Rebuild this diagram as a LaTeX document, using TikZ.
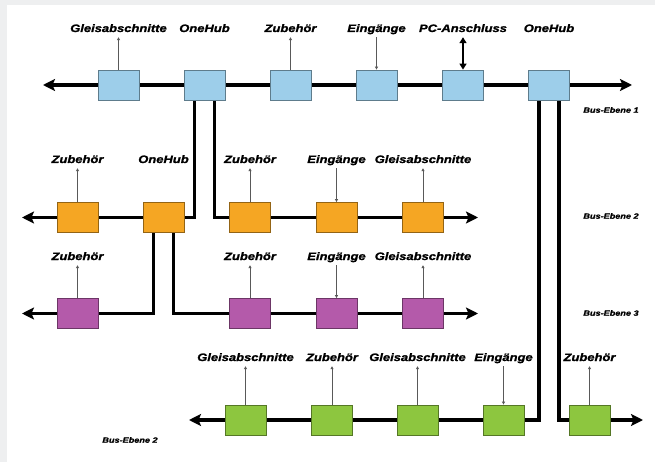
\documentclass[tikz,border=0pt]{standalone}
\usepackage{fontspec}
\setmainfont{Liberation Sans}
\newfontfamily\lblfont{Liberation Sans}[FakeStretch=1.2,FakeBold=1.3]
\usetikzlibrary{arrows.meta,backgrounds}
\definecolor{cblue}{RGB}{157,206,234}
\definecolor{corange}{RGB}{245,166,35}
\definecolor{cpurple}{RGB}{180,90,170}
\definecolor{cgreen}{RGB}{141,198,63}
\definecolor{cframe}{RGB}{238,239,240}
\tikzset{
  box/.style={draw=#1!60!black, fill=#1, line width=0.8pt, minimum width=41pt, minimum height=30pt, inner sep=0pt},
  lbl/.style={font=\lblfont\fontsize{10.8}{13}\selectfont\bfseries\itshape, inner sep=1pt, text height=8pt, text depth=0pt},
  bustxt/.style={font=\lblfont\fontsize{7.6}{9}\selectfont\bfseries\itshape, inner sep=0pt},
  bus/.style={line width=3.5pt, line cap=butt},
  busend/.style={bus, -{Stealth[length=12pt,width=12pt,inset=2.5pt]}},
  labup/.style={draw=black!65, line width=0.8pt, -{Triangle[length=3pt,width=3pt]}, shorten >=4pt},
  labdown/.style={draw=black!65, line width=0.8pt, -{Triangle[length=3pt,width=3pt]}, shorten <=4pt},
  pcarrow/.style={line width=2.2pt, {Triangle[length=6pt,width=7pt]}-{Triangle[length=6pt,width=7pt]}, shorten <=4pt}
}
\begin{document}
\begin{tikzpicture}[x=1pt,y=-1pt]
\useasboundingbox (0,0) rectangle (655,462);

% ---------- Bus-Ebene 1 (blue) ----------
\node[box=cblue] (b1) at (118.5,85) {};
\node[box=cblue] (b2) at (204.5,85) {};
\node[box=cblue] (b3) at (290.5,85) {};
\node[box=cblue] (b4) at (376.5,85) {};
\node[box=cblue] (b5) at (463,85) {};
\node[box=cblue] (b6) at (549,85) {};
\coordinate (bL) at (43,85);
\coordinate (bR) at (632,85);
\node[lbl] (lb1) at (118.5,28) {Gleisabschnitte};
\node[lbl] (lb2) at (204.5,28) {OneHub};
\node[lbl] (lb3) at (290.5,28) {Zubehör};
\node[lbl] (lb4) at (376.5,28) {Eingänge};
\node[lbl] (lb5) at (463,28) {PC-Anschluss};
\node[lbl] (lb6) at (549,28) {OneHub};
\node[bustxt] (e1) at (611,110) {Bus-Ebene 1};

% ---------- Bus-Ebene 2 (orange) ----------
\node[box=corange] (o1) at (77.5,217.5) {};
\node[box=corange] (o2) at (163.5,217.5) {};
\node[box=corange] (o3) at (250,217.5) {};
\node[box=corange] (o4) at (336.5,217.5) {};
\node[box=corange] (o5) at (423,217.5) {};
\coordinate (oL) at (22,217.5);
\coordinate (oR) at (478,217.5);
\node[lbl] (lo1) at (77.5,159) {Zubehör};
\node[lbl] (lo2) at (163.5,159) {OneHub};
\node[lbl] (lo3) at (250,159) {Zubehör};
\node[lbl] (lo4) at (336.5,159) {Eingänge};
\node[lbl] (lo5) at (423,159) {Gleisabschnitte};
\node[bustxt] (e2) at (611,216) {Bus-Ebene 2};

% ---------- Bus-Ebene 3 (purple) ----------
\node[box=cpurple] (p1) at (77.5,313.5) {};
\node[box=cpurple] (p2) at (250,313.5) {};
\node[box=cpurple] (p3) at (336.5,313.5) {};
\node[box=cpurple] (p4) at (423,313.5) {};
\coordinate (pL) at (22,313.5);
\coordinate (pR) at (478,313.5);
\node[lbl] (lp1) at (77.5,256) {Zubehör};
\node[lbl] (lp2) at (250,256) {Zubehör};
\node[lbl] (lp3) at (336.5,256) {Eingänge};
\node[lbl] (lp4) at (423,256) {Gleisabschnitte};
\node[bustxt] (e3) at (611,313) {Bus-Ebene 3};

% ---------- lower Bus-Ebene 2 (green) ----------
\node[box=cgreen] (g1) at (245.5,420) {};
\node[box=cgreen] (g2) at (332,420) {};
\node[box=cgreen] (g3) at (417.5,420) {};
\node[box=cgreen] (g4) at (503.5,420) {};
\node[box=cgreen] (g5) at (589.5,420) {};
\coordinate (gL) at (189,420);
\coordinate (gR) at (643,420);
\node[lbl] (lg1) at (245.5,357) {Gleisabschnitte};
\node[lbl] (lg2) at (332,357) {Zubehör};
\node[lbl] (lg3) at (417.5,357) {Gleisabschnitte};
\node[lbl] (lg4) at (503.5,357) {Eingänge};
\node[lbl] (lg5) at (589.5,357) {Zubehör};
\node[bustxt] (e4) at (130,440) {Bus-Ebene 2};

\begin{scope}[on background layer]
\fill[cframe] (0,0) rectangle (655,462);
\fill[white] (7,5) rectangle (655,462);
% bus lines
\draw[busend] (b1) -- (bL);
\draw[bus] (b1) -- (b2) -- (b3) -- (b4) -- (b5) -- (b6);
\draw[busend] (b6) -- (bR);
\draw[busend] (o1) -- (oL);
\draw[bus] (o1) -- (o2);
\draw[bus] (o3) -- (o4) -- (o5);
\draw[busend] (o5) -- (oR);
\draw[busend] (p1) -- (pL);
\draw[bus] (p2) -- (p3) -- (p4);
\draw[busend] (p4) -- (pR);
\draw[busend] (g1) -- (gL);
\draw[bus] (g1) -- (g2) -- (g3) -- (g4);
\draw[busend] (g5) -- (gR);
% hub branches
\draw[bus] ([xshift=-10pt]b2.south) |- (o2.east);
\draw[bus] ([xshift=10pt]b2.south) |- (o3.west);
\draw[bus] ([xshift=-10pt]o2.south) |- (p1.east);
\draw[bus] ([xshift=10pt]o2.south) |- (p2.west);
\draw[bus] ([xshift=-10pt]b6.south) |- (g4.east);
\draw[bus] ([xshift=10pt]b6.south) |- (g5.west);
\end{scope}

% label arrows
\draw[labup] (b1) -- (lb1);
\draw[labup] (b3) -- (lb3);
\draw[labdown] (lb4) -- (b4);
\draw[pcarrow] (lb5) -- (b5);
\draw[labup] (o1) -- (lo1);
\draw[labup] (o3) -- (lo3);
\draw[labdown] (lo4) -- (o4);
\draw[labup] (o5) -- (lo5);
\draw[labup] (p1) -- (lp1);
\draw[labup] (p2) -- (lp2);
\draw[labdown] (lp3) -- (p3);
\draw[labup] (p4) -- (lp4);
\draw[labup] (g1) -- (lg1);
\draw[labup] (g2) -- (lg2);
\draw[labup] (g3) -- (lg3);
\draw[labdown] (lg4) -- (g4);
\draw[labup] (g5) -- (lg5);
\end{tikzpicture}
\end{document}
